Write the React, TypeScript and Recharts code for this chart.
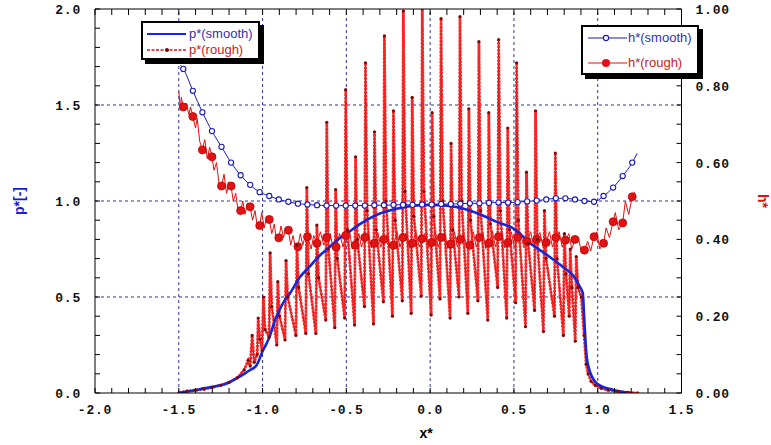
import React from "react";
import { ComposedChart, Line, XAxis, YAxis, ReferenceLine } from "recharts";

// ---------- data ----------
const smoothPX = [-1.5, -1.45, -1.4, -1.352, -1.3, -1.252, -1.2, -1.153, -1.1, -1.074, -1.04, -1.025, -1.004, -0.975, -0.955, -0.93, -0.9, -0.87, -0.836, -0.78, -0.718, -0.66, -0.6, -0.55, -0.5, -0.4, -0.3, -0.2, -0.1, 0.0, 0.1, 0.2, 0.3, 0.4, 0.5, 0.597, 0.696, 0.795, 0.855, 0.895, 0.911, 0.919, 0.931, 0.944, 0.995, 1.094, 1.193];
const smoothP = [0.0, 0.008, 0.014, 0.024, 0.032, 0.04, 0.055, 0.077, 0.105, 0.12, 0.14, 0.163, 0.21, 0.26, 0.3, 0.37, 0.43, 0.48, 0.52, 0.6, 0.66, 0.715, 0.76, 0.8, 0.83, 0.89, 0.935, 0.96, 0.975, 0.98, 0.975, 0.96, 0.93, 0.89, 0.855, 0.78, 0.72, 0.655, 0.61, 0.55, 0.52, 0.4, 0.22, 0.14, 0.05, 0.016, 0.0];

const roughPX = [
  -1.5, -1.45, -1.4, -1.35, -1.3, -1.25, -1.2, -1.15, -1.11, -1.086, -1.074, -1.062, -1.05,
  -1.032, -1.026, -1.016, -1.003, -0.995, -0.985, -0.961, -0.955, -0.945, -0.915, -0.909, -0.899,
  -0.866, -0.86, -0.85, -0.801, -0.795, -0.785, -0.742, -0.736, -0.726, -0.682, -0.676, -0.666,
  -0.623, -0.617, -0.607, -0.569, -0.564, -0.554, -0.51, -0.504, -0.494, -0.451, -0.445, -0.435,
  -0.392, -0.386, -0.376, -0.338, -0.332, -0.322, -0.279, -0.273, -0.263, -0.225, -0.219, -0.209,
  -0.166, -0.16, -0.15, -0.113, -0.107, -0.097, -0.053, -0.047, -0.037, 0.006, 0.012, 0.022,
  0.059, 0.065, 0.075, 0.119, 0.125, 0.135, 0.172, 0.178, 0.188, 0.225, 0.231, 0.241,
  0.285, 0.291, 0.301, 0.344, 0.35, 0.36, 0.403, 0.409, 0.419, 0.457, 0.463, 0.473,
  0.51, 0.516, 0.526, 0.569, 0.575, 0.585, 0.623, 0.629, 0.639, 0.676, 0.682, 0.692,
  0.742, 0.747, 0.757, 0.795, 0.801, 0.811, 0.83, 0.836, 0.846, 0.866, 0.872, 0.882,
  0.902, 0.919, 0.931, 0.943, 0.961, 0.985, 1.02, 1.062, 1.121, 1.18, 1.24,
];
const roughP = [
  0.0, 0.01, 0.015, 0.02, 0.03, 0.04, 0.055, 0.08, 0.12, 0.17, 0.14, 0.3, 0.16,
  0.2, 0.39, 0.28, 0.22, 0.5, 0.33, 0.29, 0.73, 0.45, 0.25, 0.58, 0.4,
  0.276, 0.69, 0.5, 0.3, 0.77, 0.55, 0.31, 1.07, 0.62, 0.31, 0.875, 0.6,
  0.38, 1.41, 0.75, 0.34, 1.06, 0.7, 0.39, 1.58, 0.85, 0.354, 1.23, 0.8,
  0.45, 1.72, 0.95, 0.36, 1.36, 0.85, 0.475, 1.86, 1.0, 0.4, 1.47, 0.9,
  0.48, 1.99, 1.05, 0.415, 1.54, 0.92, 0.505, 2.0, 1.05, 0.406, 1.46, 0.92,
  0.49, 1.95, 1.0, 0.39, 1.3, 0.85, 0.5, 1.96, 1.0, 0.415, 1.48, 0.9,
  0.48, 1.83, 0.95, 0.38, 1.46, 0.88, 0.55, 1.84, 0.95, 0.39, 1.38, 0.85,
  0.47, 1.72, 0.9, 0.345, 1.15, 0.78, 0.43, 1.47, 0.8, 0.32, 0.95, 0.7,
  0.4, 1.25, 0.7, 0.3, 0.83, 0.62, 0.4, 0.75, 0.55, 0.27, 0.71, 0.55,
  0.5, 0.3, 0.15, 0.1, 0.06, 0.04, 0.025, 0.015, 0.008, 0.003, 0.0,
];

const hMarkX = [-1.473, -1.416, -1.359, -1.302, -1.245, -1.188, -1.131, -1.074, -1.017, -0.96, -0.903, -0.846, -0.789, -0.732, -0.675, -0.618, -0.561, -0.504, -0.447, -0.39, -0.333, -0.276, -0.219, -0.162, -0.105, -0.048, 0.009, 0.066, 0.123, 0.18, 0.237, 0.294, 0.351, 0.408, 0.465, 0.522, 0.579, 0.636, 0.693, 0.75, 0.807, 0.864, 0.921, 0.978, 1.035, 1.092, 1.149, 1.206];
const smoothH = [0.844, 0.787, 0.731, 0.682, 0.641, 0.6, 0.567, 0.542, 0.523, 0.513, 0.504, 0.498, 0.493, 0.491, 0.489, 0.488, 0.488, 0.488, 0.488, 0.488, 0.489, 0.489, 0.49, 0.49, 0.49, 0.491, 0.491, 0.492, 0.492, 0.493, 0.494, 0.494, 0.495, 0.496, 0.496, 0.497, 0.499, 0.501, 0.504, 0.507, 0.507, 0.504, 0.5, 0.498, 0.513, 0.535, 0.565, 0.6];
const smoothHStartX = [-1.49];
const smoothHStart = [0.854];
const smoothHEndX = [1.235];
const smoothHEnd = [0.624];

const roughHMark = [0.745, 0.72, 0.633, 0.615, 0.539, 0.539, 0.475, 0.485, 0.436, 0.452, 0.404, 0.424, 0.381, 0.407, 0.39, 0.405, 0.38, 0.41, 0.385, 0.405, 0.39, 0.4, 0.385, 0.405, 0.39, 0.402, 0.392, 0.405, 0.388, 0.4, 0.385, 0.405, 0.39, 0.407, 0.392, 0.405, 0.395, 0.4, 0.392, 0.405, 0.398, 0.4, 0.372, 0.407, 0.39, 0.446, 0.443, 0.511];
const roughHZigX = [-1.5, -1.49, -1.485, -1.455, -1.44, -1.43, -1.4, -1.39, -1.375, -1.345, -1.33, -1.316, -1.29, -1.275, -1.26, -1.23, -1.215, -1.2, -1.175, -1.16, -1.145, -1.118, -1.105, -1.09, -1.06, -1.045, -1.03, -1.005, -0.99, -0.975, -0.945, -0.93, -0.918, -0.89, -0.875, -0.86, -0.832, -0.818, -0.803, -0.775, -0.76, -0.745, -0.71, -0.695, -0.655, -0.635, -0.595, -0.58, -0.54, -0.52, -0.48, -0.465, -0.425, -0.41, -0.37, -0.35, -0.312, -0.295, -0.255, -0.238, -0.198, -0.18, -0.14, -0.122, -0.085, -0.065, -0.028, -0.01, 0.03, 0.048, 0.088, 0.105, 0.145, 0.162, 0.2, 0.218, 0.258, 0.275, 0.315, 0.332, 0.372, 0.39, 0.428, 0.445, 0.485, 0.502, 0.54, 0.56, 0.6, 0.618, 0.655, 0.675, 0.712, 0.73, 0.77, 0.788, 0.828, 0.845, 0.885, 0.903, 0.94, 0.958, 0.995, 1.012, 1.05, 1.07, 1.105, 1.125, 1.165, 1.185, 1.22];
const roughHZig = [0.785, 0.74, 0.77, 0.755, 0.725, 0.745, 0.69, 0.715, 0.655, 0.66, 0.61, 0.64, 0.58, 0.6, 0.545, 0.57, 0.52, 0.55, 0.5, 0.52, 0.47, 0.5, 0.465, 0.495, 0.45, 0.475, 0.43, 0.47, 0.43, 0.46, 0.415, 0.44, 0.4, 0.435, 0.405, 0.43, 0.385, 0.41, 0.375, 0.415, 0.385, 0.41, 0.375, 0.41, 0.42, 0.385, 0.415, 0.375, 0.415, 0.38, 0.42, 0.375, 0.415, 0.38, 0.42, 0.378, 0.418, 0.38, 0.415, 0.378, 0.42, 0.38, 0.418, 0.376, 0.42, 0.38, 0.418, 0.378, 0.42, 0.38, 0.418, 0.376, 0.42, 0.38, 0.418, 0.378, 0.42, 0.38, 0.418, 0.376, 0.42, 0.38, 0.418, 0.378, 0.42, 0.38, 0.418, 0.378, 0.42, 0.38, 0.418, 0.378, 0.42, 0.38, 0.42, 0.38, 0.415, 0.375, 0.405, 0.365, 0.395, 0.37, 0.42, 0.375, 0.43, 0.405, 0.47, 0.425, 0.5, 0.465, 0.524];

// ---------- axes ----------
const xTicks = [-2.0, -1.9, -1.8, -1.7, -1.6, -1.5, -1.4, -1.3, -1.2, -1.1, -1.0, -0.9, -0.8, -0.7, -0.6, -0.5, -0.4, -0.3, -0.2, -0.1, 0.0, 0.1, 0.2, 0.3, 0.4, 0.5, 0.6, 0.7, 0.8, 0.9, 1.0, 1.1, 1.2, 1.3, 1.4, 1.5];
const pTicks = [0.0, 0.1, 0.2, 0.3, 0.4, 0.5, 0.6, 0.7, 0.8, 0.9, 1.0, 1.1, 1.2, 1.3, 1.4, 1.5, 1.6, 1.7, 1.8, 1.9, 2.0];
const hTicks = [0.0, 0.05, 0.1, 0.15, 0.2, 0.25, 0.3, 0.35, 0.4, 0.45, 0.5, 0.55, 0.6, 0.65, 0.7, 0.75, 0.8, 0.85, 0.9, 0.95, 1.0];
const gridX = [-1.5, -1.0, -0.5, 0.0, 0.5, 1.0];
const gridY = [0.5, 1.0, 1.5];

const zip = (xs: number[], ys: number[], extra: object = {}) => xs.map((x, i) => ({ x, y: ys[i], ...extra }));

const smoothPData = zip(smoothPX, smoothP);
const roughPData = zip(roughPX, roughP);
const smoothHData = [...zip(smoothHStartX, smoothHStart, { m: false }), ...zip(hMarkX, smoothH, { m: true }), ...zip(smoothHEndX, smoothHEnd, { m: false })];
const roughHData = [...zip(hMarkX, roughHMark, { m: true }), ...zip(roughHZigX, roughHZig, { m: false })].sort((a, b) => a.x - b.x);

// ---------- layout ----------
const W = 771;
const H = 445;
const PLOT_H = 384;
const tickFont = { fontFamily: "'Liberation Mono', 'DejaVu Sans Mono', monospace", fontWeight: 700, fontSize: 13, letterSpacing: 0.8 };
const titleFont = { fontFamily: "'Liberation Sans', Arial, sans-serif", fontWeight: 700, fontSize: 14 };

const isMult = (v: number, step: number) => Math.abs(v / step - Math.round(v / step)) < 1e-6;

const XTick = (props: any) => {
  const { x, y, payload } = props;
  const v = payload.value;
  return (
    <g>
      <line x1={x} x2={x} y1={y} y2={y - 5} stroke="#000" strokeWidth={1} />
      <line x1={x} x2={x} y1={y - PLOT_H} y2={y - PLOT_H + 6} stroke="#000" strokeWidth={1} />
      {isMult(v, 0.5) && (
        <text x={x} y={y + 21} textAnchor="middle" fill="#111" style={tickFont}>
          {v.toFixed(1)}
        </text>
      )}
    </g>
  );
};

const PTick = (props: any) => {
  const { x, y, payload } = props;
  const v = payload.value;
  return (
    <g>
      <line x1={x} x2={x + 5} y1={y} y2={y} stroke="#000" strokeWidth={1} />
      {isMult(v, 0.5) && (
        <text x={x - 14} y={y + 5} textAnchor="end" fill="#111" style={tickFont}>
          {v.toFixed(1)}
        </text>
      )}
    </g>
  );
};

const HTick = (props: any) => {
  const { x, y, payload } = props;
  const v = payload.value;
  return (
    <g>
      <line x1={x} x2={x - 5} y1={y} y2={y} stroke="#000" strokeWidth={1} />
      {isMult(v, 0.2) && (
        <text x={x + 14} y={y + 5} textAnchor="start" fill="#111" style={tickFont}>
          {v.toFixed(2)}
        </text>
      )}
    </g>
  );
};

const SmoothHDot = (props: any) => {
  const { cx, cy, index, payload } = props;
  if (!payload || !payload.m) return <g key={`sh${index}`} />;
  return <circle key={`sh${index}`} cx={cx} cy={cy} r={2.6} fill="#fff" stroke="#1a1ab8" strokeWidth={1.1} />;
};

const RoughHDot = (props: any) => {
  const { cx, cy, index, payload } = props;
  if (!payload || !payload.m) return <g key={`rh${index}`} />;
  return <circle key={`rh${index}`} cx={cx} cy={cy} r={4} fill="#e01414" stroke="#c00000" strokeWidth={0.8} />;
};

const RoughPDot = (props: any) => {
  const { cx, cy, index } = props;
  return <circle key={`rp${index}`} cx={cx} cy={cy} r={1.6} fill="#7a0a0a" />;
};

const legendText: React.CSSProperties = {
  position: "absolute",
  fontFamily: "'Liberation Sans', Arial, sans-serif",
  fontSize: 13,
  lineHeight: "14px",
  whiteSpace: "nowrap",
};

const boxStyle: React.CSSProperties = {
  position: "absolute",
  background: "#fff",
  border: "2px solid #000",
  boxShadow: "4px 4px 0 #000",
  boxSizing: "border-box",
};

export default function App() {
  return (
    <div style={{ position: "absolute", left: 0, top: 0, width: W, height: H, background: "#fff" }}>
      <ComposedChart width={W} height={H} margin={{ top: 9, right: 29.5, bottom: 22, left: 35 }}>
        <XAxis
          xAxisId="x"
          dataKey="x"
          type="number"
          domain={[-2, 1.5]}
          ticks={xTicks}
          interval={0}
          allowDataOverflow
          height={30}
          tickSize={0}
          tickMargin={0}
          tickLine={false}
          axisLine={{ stroke: "#000", strokeWidth: 1 }}
          tick={<XTick />}
        />
        <YAxis
          yAxisId="p"
          type="number"
          domain={[0, 2]}
          ticks={pTicks}
          interval={0}
          allowDataOverflow
          width={60}
          tickSize={0}
          tickMargin={0}
          tickLine={false}
          axisLine={{ stroke: "#000", strokeWidth: 1 }}
          tick={<PTick />}
        />
        <YAxis
          yAxisId="h"
          orientation="right"
          type="number"
          domain={[0, 1]}
          ticks={hTicks}
          interval={0}
          allowDataOverflow
          width={60}
          tickSize={0}
          tickMargin={0}
          tickLine={false}
          axisLine={{ stroke: "#000", strokeWidth: 1 }}
          tick={<HTick />}
        />
        {gridX.map((g) => (
          <ReferenceLine key={`gx${g}`} xAxisId="x" yAxisId="p" x={g} stroke="#1a1a90" strokeWidth={0.9} strokeDasharray="3 3" />
        ))}
        {gridY.map((g) => (
          <ReferenceLine key={`gy${g}`} xAxisId="x" yAxisId="p" y={g} stroke="#1a1a90" strokeWidth={0.9} strokeDasharray="3 3" />
        ))}
        <ReferenceLine xAxisId="x" yAxisId="p" y={2} stroke="#000" strokeWidth={1} />

        <Line
          xAxisId="x"
          yAxisId="h"
          data={roughHData}
          dataKey="y"
          type="linear"
          stroke="#e01010"
          strokeWidth={1}
          dot={<RoughHDot />}
          isAnimationActive={false}
        />
        <Line
          xAxisId="x"
          yAxisId="p"
          data={roughPData}
          dataKey="y"
          type="linear"
          stroke="#a01010"
          strokeWidth={1.2}
          dot={false}
          isAnimationActive={false}
        />
        <Line
          xAxisId="x"
          yAxisId="p"
          data={roughPData}
          dataKey="y"
          type="linear"
          stroke="#ff2020"
          strokeWidth={2.8}
          strokeDasharray="2.5 1"
          dot={<RoughPDot />}
          isAnimationActive={false}
        />
        <Line
          xAxisId="x"
          yAxisId="p"
          data={smoothPData}
          dataKey="y"
          type="monotone"
          stroke="#1428d8"
          strokeWidth={2.6}
          dot={false}
          isAnimationActive={false}
        />
        <Line
          xAxisId="x"
          yAxisId="h"
          data={smoothHData}
          dataKey="y"
          type="monotone"
          stroke="#1a1ab8"
          strokeWidth={1}
          dot={<SmoothHDot />}
          isAnimationActive={false}
        />
        <text x={426} y={438} textAnchor="middle" style={titleFont} fill="#000">
          x*
        </text>
        <text x={24} y={201} textAnchor="middle" transform="rotate(-90 24 201)" style={titleFont} fill="#1a1ad0">
          p*[-]
        </text>
        <text x={758} y={201} textAnchor="middle" transform="rotate(90 758 201)" style={titleFont} fill="#e01010">
          h*
        </text>
      </ComposedChart>

      {/* left legend */}
      <div style={{ ...boxStyle, left: 141, top: 21, width: 119, height: 39 }} />
      <svg style={{ position: "absolute", left: 0, top: 0, pointerEvents: "none" }} width={W} height={H}>
        <line x1={147} x2={186} y1={34} y2={34} stroke="#1428d8" strokeWidth={2.2} />
        <line x1={147} x2={186} y1={50} y2={50} stroke="#e01010" strokeWidth={1.6} strokeDasharray="3 1.5" />
        <circle cx={167} cy={50} r={2} fill="#7a0a0a" />
      </svg>
      <div style={{ ...legendText, left: 189, top: 27, color: "#3030b0" }}>p*(smooth)</div>
      <div style={{ ...legendText, left: 189, top: 43, color: "#cc2020" }}>p*(rough)</div>

      {/* right legend */}
      <div style={{ ...boxStyle, left: 581, top: 25, width: 118, height: 50 }} />
      <svg style={{ position: "absolute", left: 0, top: 0, pointerEvents: "none" }} width={W} height={H}>
        <line x1={588} x2={627} y1={38} y2={38} stroke="#1a1ab8" strokeWidth={1} />
        <circle cx={606} cy={38} r={2.6} fill="#fff" stroke="#1a1ab8" strokeWidth={1.1} />
        <line x1={588} x2={627} y1={63} y2={63} stroke="#e01010" strokeWidth={1} />
        <circle cx={606} cy={63} r={4} fill="#e01414" />
      </svg>
      <div style={{ ...legendText, left: 628, top: 31, color: "#3030b0" }}>h*(smooth)</div>
      <div style={{ ...legendText, left: 628, top: 56, color: "#cc2020" }}>h*(rough)</div>
    </div>
  );
}
